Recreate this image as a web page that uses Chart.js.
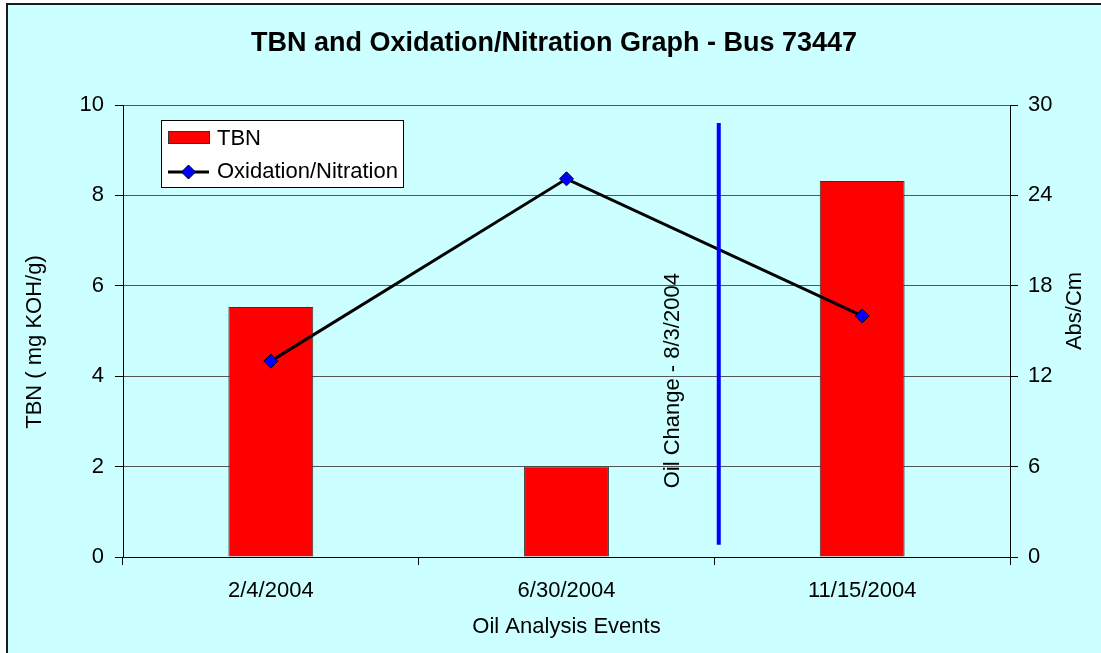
<!DOCTYPE html>
<html>
<head>
<meta charset="utf-8">
<script src="https://cdn.jsdelivr.net/npm/chart.js@4"></script>
<style>
  html, body { margin: 0; padding: 0; background: #fff; }
  #wrap { width: 1101px; height: 653px; }
</style>
</head>
<body>
<div id="wrap"><canvas id="tbnChart" width="1101" height="653"></canvas></div>
<script>
const categories = ["2/4/2004", "6/30/2004", "11/15/2004"];
const tbnValues = [5.53, 2.0, 8.32];           // mg KOH/g (left axis)
const oxNitValues = [13.0, 25.1, 16.0];         // Abs/Cm (right axis)
const oilChangeX = [1.515, 1.515];              // between 2nd and 3rd event
const oilChangeY = [0.27, 9.6];
const oilChangeLabel = "Oil Change - 8/3/2004";

const FONT = "'Liberation Sans', Arial, sans-serif";
const FS = 22;

// background + frame
const backdrop = {
  id: "backdrop",
  beforeDraw(chart) {
    const c = chart.ctx;
    c.save();
    c.fillStyle = "#fff";
    c.fillRect(0, 0, chart.width, chart.height);
    c.fillStyle = "#ccffff";
    c.fillRect(7, 4, chart.width, chart.height);
    c.strokeStyle = "#1a1a1a";
    c.lineWidth = 2;
    c.strokeRect(7, 4, chart.width + 10, chart.height + 10);
    c.restore();
  }
};

// axis titles, oil change note and legend box
const extras = {
  id: "extras",
  afterDraw(chart) {
    const c = chart.ctx;
    const s = chart.scales;
    c.save();
    c.fillStyle = "#000";
    c.font = FS + "px " + FONT;
    c.textAlign = "center";
    c.textBaseline = "middle";

    const vert = (txt, x, y) => {
      c.save();
      c.translate(x, y);
      c.rotate(-Math.PI / 2);
      c.fillText(txt, 0, 0);
      c.restore();
    };
    vert("TBN ( mg KOH/g)", 35, 342);
    vert("Abs/Cm", 1075, 311);
    vert(oilChangeLabel, s.x2.getPixelForValue(oilChangeX[0]) - 46, s.y.getPixelForValue(3.9));

    // legend
    const lx = 161, ly = 120, lw = 242, lh = 67;
    c.fillStyle = "#fff";
    c.fillRect(lx, ly, lw, lh);
    c.strokeStyle = "#000";
    c.lineWidth = 1;
    c.strokeRect(lx + 0.5, ly + 0.5, lw, lh);

    const bar = chart.data.datasets[0];
    c.fillStyle = bar.backgroundColor;
    c.fillRect(168, 131, 41, 12);
    c.strokeStyle = bar.borderColor;
    c.strokeRect(168.5, 131.5, 41, 12);

    const ln = chart.data.datasets[1];
    c.strokeStyle = ln.borderColor;
    c.lineWidth = 3;
    c.beginPath();
    c.moveTo(168, 172);
    c.lineTo(209, 172);
    c.stroke();
    c.beginPath();
    c.moveTo(188.5, 165);
    c.lineTo(195.5, 172);
    c.lineTo(188.5, 179);
    c.lineTo(181.5, 172);
    c.closePath();
    c.fillStyle = ln.pointBackgroundColor;
    c.fill();
    c.lineWidth = 1;
    c.strokeStyle = "#000";
    c.stroke();

    c.fillStyle = "#000";
    c.textAlign = "left";
    c.fillText(bar.label, 217, 139);
    c.fillText(ln.label, 217, 172);
    c.restore();
  }
};

const ctx = document.getElementById("tbnChart").getContext("2d");
const tbnChart = new Chart(ctx, {
  data: {
    labels: categories,
    datasets: [
      {
        type: "bar",
        label: "TBN",
        data: tbnValues,
        backgroundColor: "#ff0000",
        borderColor: "#333333",
        borderWidth: 1,
        grouped: false,
        barPercentage: 0.287,
        categoryPercentage: 1,
        yAxisID: "y",
        xAxisID: "x",
        order: 3
      },
      {
        type: "line",
        label: "Oxidation/Nitration",
        data: oxNitValues,
        borderColor: "#000000",
        borderWidth: 3,
        pointStyle: "rectRot",
        pointRadius: 7,
        pointHoverRadius: 7,
        pointBackgroundColor: "#0000ff",
        pointBorderColor: "#000000",
        pointBorderWidth: 1,
        tension: 0,
        yAxisID: "y2",
        xAxisID: "x",
        order: 1
      },
      {
        type: "line",
        label: "Oil Change",
        data: oilChangeX.map((x, i) => ({ x: x, y: oilChangeY[i] })),
        borderColor: "#0000ff",
        borderWidth: 4,
        pointRadius: 0,
        xAxisID: "x2",
        yAxisID: "y",
        order: 0
      }
    ]
  },
  options: {
    responsive: false,
    animation: false,
    layout: { padding: { left: 7, top: 4, right: 0, bottom: 0 } },
    plugins: {
      legend: { display: false },
      tooltip: { enabled: false },
      title: {
        display: true,
        text: "TBN and Oxidation/Nitration Graph - Bus 73447",
        color: "#000",
        font: { family: FONT, size: 27, weight: "bold" },
        padding: { top: 23.8, bottom: 44.8 }
      }
    },
    scales: {
      x: {
        type: "category",
        offset: true,
        grid: {
          offset: true,
          drawOnChartArea: false,
          drawTicks: true,
          tickLength: 8,
          tickColor: "#000"
        },
        border: { color: "#000", width: 1 },
        ticks: { color: "#000", font: { family: FONT, size: FS }, padding: 13 },
        title: {
          display: true,
          text: "Oil Analysis Events",
          color: "#000",
          font: { family: FONT, size: FS },
          padding: { top: 0, bottom: 13 }
        },
        afterFit(scale) { scale.height = 96; }
      },
      x2: {
        type: "linear",
        display: false,
        min: -0.5,
        max: 2.5
      },
      y: {
        position: "left",
        min: 0,
        max: 10,
        ticks: { stepSize: 2, color: "#000", font: { family: FONT, size: FS }, padding: 11 },
        grid: { color: "#555555", tickColor: "#000", tickLength: 8 },
        border: { color: "#000", width: 1 },
        afterFit(scale) { scale.width = 116; }
      },
      y2: {
        position: "right",
        min: 0,
        max: 30,
        ticks: { stepSize: 6, color: "#000", font: { family: FONT, size: FS }, padding: 10 },
        grid: { drawOnChartArea: false, tickColor: "#000", tickLength: 8 },
        border: { color: "#000", width: 1 },
        afterFit(scale) { scale.width = 91; }
      }
    }
  },
  plugins: [backdrop, extras]
});
</script>
</body>
</html>
